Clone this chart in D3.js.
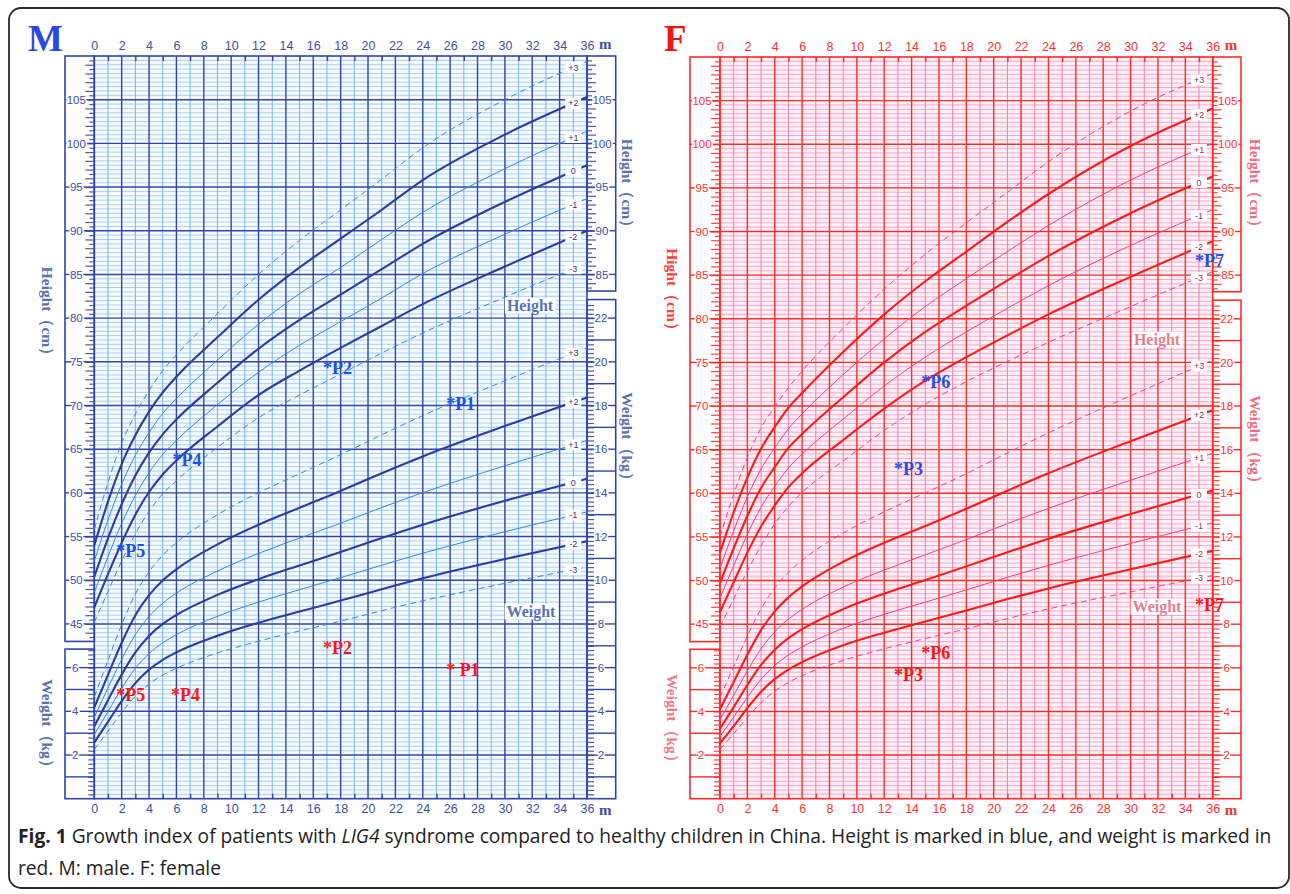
<!DOCTYPE html>
<html>
<head>
<meta charset="utf-8">
<script src="https://cdn.jsdelivr.net/npm/d3@7"></script>
<style>
  body { margin: 0; background: #fff; }
  svg { display: block; }
</style>
</head>
<body>
<svg id="chart" width="1290" height="894"></svg>
<script>
// ages (months) of the reference table rows
const months = [0, 1, 2, 3, 4, 5, 6, 9, 12, 15, 18, 21, 24, 30, 36];
const zLabels = ["-3", "-2", "-1", "0", "+1", "+2", "+3"];
const monthTicks = d3.range(0, 37, 2);

// one row per month, columns z = -3 .. +3
const boyHeight = [
  [45.2, 46.9, 48.6, 50.4, 52.2, 54.0, 55.8],
  [48.7, 50.7, 52.7, 54.8, 56.9, 59.0, 61.2],
  [52.2, 54.3, 56.5, 58.7, 61.0, 63.3, 65.7],
  [55.3, 57.5, 59.7, 62.0, 64.3, 66.6, 69.0],
  [57.9, 60.1, 62.3, 64.6, 66.9, 69.3, 71.7],
  [59.9, 62.1, 64.4, 66.7, 69.1, 71.5, 74.0],
  [61.4, 63.7, 66.0, 68.4, 70.8, 73.3, 75.8],
  [65.2, 67.6, 70.1, 72.6, 75.2, 77.8, 80.5],
  [68.6, 71.2, 73.8, 76.5, 79.3, 82.1, 85.0],
  [71.2, 74.0, 76.9, 79.8, 82.8, 85.8, 88.9],
  [73.6, 76.6, 79.6, 82.7, 85.8, 89.1, 92.4],
  [76.0, 79.1, 82.3, 85.6, 89.0, 92.4, 95.9],
  [78.3, 81.6, 85.1, 88.5, 92.1, 95.8, 99.5],
  [82.4, 85.9, 89.6, 93.3, 97.1, 101.0, 105.0],
  [86.3, 90.0, 93.7, 97.5, 101.4, 105.3, 109.4]
];
const boyWeight = [
  [2.26, 2.58, 2.93, 3.32, 3.73, 4.18, 4.66],
  [3.09, 3.52, 3.99, 4.51, 5.07, 5.67, 6.33],
  [3.94, 4.47, 5.05, 5.68, 6.38, 7.14, 7.97],
  [4.69, 5.29, 5.97, 6.70, 7.51, 8.40, 9.37],
  [5.25, 5.91, 6.64, 7.45, 8.34, 9.32, 10.39],
  [5.66, 6.36, 7.14, 8.00, 8.95, 9.99, 11.15],
  [5.97, 6.70, 7.51, 8.41, 9.41, 10.50, 11.72],
  [6.67, 7.46, 8.35, 9.33, 10.42, 11.64, 13.00],
  [7.21, 8.06, 9.00, 10.05, 11.23, 12.54, 14.00],
  [7.68, 8.57, 9.57, 10.68, 11.93, 13.32, 14.88],
  [8.13, 9.07, 10.12, 11.29, 12.61, 14.09, 15.75],
  [8.61, 9.59, 10.69, 11.93, 13.33, 14.90, 16.66],
  [9.06, 10.09, 11.24, 12.54, 14.01, 15.67, 17.54],
  [9.86, 10.97, 12.22, 13.64, 15.24, 17.06, 19.13],
  [10.61, 11.79, 13.13, 14.65, 16.39, 18.37, 20.64]
];
const girlHeight = [
  [44.7, 46.4, 48.0, 49.7, 51.4, 53.2, 55.0],
  [47.9, 49.8, 51.7, 53.7, 55.7, 57.8, 59.9],
  [51.1, 53.2, 55.3, 57.4, 59.6, 61.8, 64.1],
  [54.0, 56.2, 58.4, 60.6, 62.8, 65.1, 67.5],
  [56.5, 58.6, 60.8, 63.0, 65.2, 67.6, 69.9],
  [58.5, 60.7, 62.9, 65.2, 67.4, 69.8, 72.1],
  [60.1, 62.3, 64.5, 66.8, 69.1, 71.5, 74.0],
  [63.7, 66.1, 68.5, 71.0, 73.6, 76.2, 78.9],
  [67.2, 69.7, 72.3, 75.0, 77.7, 80.5, 83.4],
  [70.2, 72.9, 75.6, 78.5, 81.4, 84.3, 87.4],
  [72.8, 75.6, 78.5, 81.5, 84.6, 87.7, 91.0],
  [75.1, 78.1, 81.2, 84.4, 87.7, 91.1, 94.5],
  [77.3, 80.5, 83.8, 87.2, 90.7, 94.3, 98.0],
  [81.4, 84.8, 88.4, 92.1, 95.9, 99.8, 103.8],
  [85.4, 88.9, 92.5, 96.3, 100.1, 104.1, 108.1]
];
const girlWeight = [
  [2.26, 2.54, 2.85, 3.21, 3.63, 4.10, 4.65],
  [2.98, 3.33, 3.74, 4.20, 4.74, 5.35, 6.05],
  [3.72, 4.15, 4.65, 5.21, 5.86, 6.60, 7.46],
  [4.40, 4.90, 5.47, 6.13, 6.87, 7.73, 8.71],
  [4.93, 5.48, 6.11, 6.83, 7.65, 8.59, 9.66],
  [5.33, 5.92, 6.59, 7.36, 8.23, 9.23, 10.38],
  [5.64, 6.26, 6.96, 7.77, 8.68, 9.73, 10.93],
  [6.34, 7.03, 7.81, 8.69, 9.70, 10.86, 12.18],
  [6.87, 7.61, 8.45, 9.40, 10.48, 11.73, 13.15],
  [7.34, 8.12, 9.01, 10.02, 11.18, 12.50, 14.02],
  [7.79, 8.63, 9.57, 10.65, 11.88, 13.29, 14.90],
  [8.26, 9.15, 10.15, 11.30, 12.61, 14.12, 15.85],
  [8.70, 9.64, 10.70, 11.92, 13.31, 14.92, 16.77],
  [9.48, 10.52, 11.70, 13.05, 14.60, 16.39, 18.47],
  [10.23, 11.36, 12.65, 14.13, 15.83, 17.81, 20.10]
];

// patients: [label, age in months, value]
const boyHeightPts = [["*P1", 26, 70.5], ["*P2", 17, 74.6], ["*P4", 6, 64.0], ["*P5", 1.9, 53.6]];
const boyWeightPts = [["* P1", 26, 6.0], ["*P2", 17, 7.0], ["*P4", 5.9, 4.85], ["*P5", 1.9, 4.85]];
const girlHeightPts = [["*P3", 13, 63.1], ["*P6", 15, 73.0], ["*P7", 35, 86.9]];
const girlWeightPts = [["*P3", 13, 5.8], ["*P6", 15, 6.8], ["*P7", 35, 9.0]];

const heightLabels = d3.range(45, 106, 5);
const heightLabelsRight = [85, 90, 95, 100, 105];
const weightLabelsLeft = [2, 4, 6];
const weightLabelsRight = d3.range(2, 23, 2);

const svg = d3.select("#chart");
const SERIF = "'Liberation Serif', 'DejaVu Serif', serif";
const SANS = "'Liberation Sans', Arial, sans-serif";

svg.append("rect")
  .attr("x", 9).attr("y", 8).attr("width", 1280).attr("height", 880)
  .attr("rx", 12)
  .attr("fill", "#fff").attr("stroke", "#2a2a2a").attr("stroke-width", 1.8);

function drawPanel(p) {
  const x = d3.scaleLinear().domain([0, 36]).range([p.x0, p.x1]);
  const yH = d3.scaleLinear().domain([25, 110]).range([p.bottom, p.top]);
  const yW = d3.scaleLinear().domain([0, 34]).range([p.bottom, p.top]);
  const g = svg.append("g");

  // plot background
  g.append("rect")
    .attr("x", p.x0).attr("y", p.top)
    .attr("width", p.x1 - p.x0).attr("height", p.bottom - p.top)
    .attr("fill", p.bg);

  // fine horizontal rules, every 0.5 cm
  g.append("g").selectAll("line")
    .data(d3.range(25.5, 110, 0.5).filter(v => v % 5 !== 0))
    .join("line")
    .attr("x1", p.x0).attr("x2", p.x1)
    .attr("y1", d => yH(d)).attr("y2", d => yH(d))
    .attr("stroke", p.fine).attr("stroke-width", 0.9);

  // odd month verticals
  g.append("g").selectAll("line")
    .data(d3.range(1, 36, 2))
    .join("line")
    .attr("x1", d => x(d)).attr("x2", d => x(d))
    .attr("y1", p.top).attr("y2", p.bottom)
    .attr("stroke", p.month).attr("stroke-width", 1);

  // major grid
  g.append("g").selectAll("line")
    .data(d3.range(30, 110, 5))
    .join("line")
    .attr("x1", p.x0).attr("x2", p.x1)
    .attr("y1", d => yH(d)).attr("y2", d => yH(d))
    .attr("stroke", p.major).attr("stroke-width", 1.4);
  g.append("g").selectAll("line")
    .data(d3.range(2, 36, 2))
    .join("line")
    .attr("x1", d => x(d)).attr("x2", d => x(d))
    .attr("y1", p.top).attr("y2", p.bottom)
    .attr("stroke", p.major).attr("stroke-width", 1.4);

  // odd month ticks on top and bottom edges
  g.append("g").attr("transform", `translate(0,${p.top})`)
    .call(d3.axisBottom(x).tickValues(d3.range(1, 36, 2)).tickSize(5).tickFormat(""))
    .call(a => a.select(".domain").remove())
    .selectAll("line").attr("stroke", p.major).attr("stroke-width", 1.4);
  g.append("g").attr("transform", `translate(0,${p.bottom})`)
    .call(d3.axisTop(x).tickValues(d3.range(1, 36, 2)).tickSize(5).tickFormat(""))
    .call(a => a.select(".domain").remove())
    .selectAll("line").attr("stroke", p.major).attr("stroke-width", 1.4);

  // side boxes
  const boxes = [
    [p.boxL, yH(110), p.x0, yH(43)],
    [p.boxL, yW(6.85), p.x0, yW(0)],
    [p.x1, yH(110), p.boxR, yH(83.1)],
    [p.x1, yW(22.85), p.boxR, yW(0)]
  ];
  g.append("g").selectAll("rect")
    .data(boxes)
    .join("rect")
    .attr("x", d => d[0]).attr("y", d => d[1])
    .attr("width", d => d[2] - d[0]).attr("height", d => d[3] - d[1])
    .attr("fill", "#fff").attr("stroke", p.major).attr("stroke-width", 1.6);

  // box ticks
  function ticks(axis, scale, vals, size, tx) {
    g.append("g").attr("transform", `translate(${tx},0)`)
      .call(axis(scale).tickValues(vals).tickSize(size).tickFormat(""))
      .call(a => a.select(".domain").remove())
      .selectAll("line").attr("stroke", p.tick).attr("stroke-width", 1.2);
  }
  ticks(d3.axisLeft, yH, d3.range(43.5, 110, 1), 5, p.x0);
  ticks(d3.axisLeft, yH, d3.range(44, 110, 1), 9, p.x0);
  ticks(d3.axisLeft, yW, d3.range(0.2, 6.85, 0.2), 6, p.x0);
  ticks(d3.axisRight, yH, d3.range(83.5, 110, 1), 5, p.x1);
  ticks(d3.axisRight, yH, d3.range(84, 110, 1), 9, p.x1);
  ticks(d3.axisRight, yW, d3.range(0.2, 22.8, 0.2), 7, p.x1);

  // full rules across weight boxes at odd kg
  g.append("g").selectAll("line")
    .data([1, 3, 5])
    .join("line")
    .attr("x1", p.boxL).attr("x2", p.x0)
    .attr("y1", d => yW(d)).attr("y2", d => yW(d))
    .attr("stroke", p.major).attr("stroke-width", 1.4);
  g.append("g").selectAll("line")
    .data(d3.range(1, 22, 2))
    .join("line")
    .attr("x1", p.x1).attr("x2", p.boxR)
    .attr("y1", d => yW(d)).attr("y2", d => yW(d))
    .attr("stroke", p.major).attr("stroke-width", 1.4);

  // labelled rules
  function labelled(vals, scale, xa, xb, cx) {
    const lg = g.append("g");
    lg.selectAll("line").data(vals).join("line")
      .attr("x1", xa).attr("x2", xb)
      .attr("y1", d => scale(d)).attr("y2", d => scale(d))
      .attr("stroke", p.major).attr("stroke-width", 1.4);
    lg.selectAll("text").data(vals).join("text")
      .attr("x", cx).attr("y", d => scale(d)).attr("dy", "0.36em")
      .attr("text-anchor", "middle")
      .attr("font-family", SANS).attr("font-size", 11.5)
      .attr("fill", p.text)
      .attr("stroke", "#fff").attr("stroke-width", 3).attr("paint-order", "stroke")
      .text(d => d);
  }
  labelled(heightLabels, yH, p.boxL, p.x0, p.x0 - 18);
  labelled(weightLabelsLeft, yW, p.boxL, p.x0, p.x0 - 19);
  labelled(heightLabelsRight, yH, p.x1, p.boxR, p.x1 + 15);
  labelled(weightLabelsRight, yW, p.x1, p.boxR, p.x1 + 14);

  // plot border
  g.append("rect")
    .attr("x", p.x0).attr("y", p.top)
    .attr("width", p.x1 - p.x0).attr("height", p.bottom - p.top)
    .attr("fill", "none").attr("stroke", p.major).attr("stroke-width", 1.6);

  // month axes
  [[d3.axisTop, p.top - 6], [d3.axisBottom, p.bottom + 5]].forEach(([axis, ty]) => {
    g.append("g").attr("transform", `translate(0,${ty})`)
      .call(axis(x).tickValues(monthTicks).tickSize(0).tickPadding(0))
      .call(a => a.select(".domain").remove())
      .selectAll("text")
      .attr("font-family", SANS).attr("font-size", 12.5)
      .attr("fill", p.text);
    g.append("text")
      .attr("x", x(36) + 12).attr("y", ty + (axis === d3.axisTop ? -1 : 11))
      .attr("font-family", SERIF).attr("font-weight", "bold").attr("font-size", 15)
      .attr("fill", p.text).text("m");
  });

  // growth curves: -3/+3 dashed, -1/+1 thin, -2/0/+2 heavy
  const lineH = d3.line().x(d => x(d[0])).y(d => yH(d[1])).curve(d3.curveMonotoneX);
  const lineW = d3.line().x(d => x(d[0])).y(d => yW(d[1])).curve(d3.curveMonotoneX);
  const styleOf = z => {
    if (z === 0 || z === 6) return { stroke: p.thin, width: 1, dash: "6,4" };
    if (z === 2 || z === 4) return { stroke: p.thin, width: 1, dash: null };
    return { stroke: p.curve, width: 2.1, dash: null };
  };
  const curveLayer = g.append("g");
  const labelLayer = g.append("g");
  const i30 = months.indexOf(30), i36 = months.indexOf(36);
  [[p.height, lineH, yH], [p.weight, lineW, yW]].forEach(([table, line, scale]) => {
    zLabels.forEach((lab, z) => {
      const pts = months.map((m, i) => [m, table[i][z]]);
      const s = styleOf(z);
      curveLayer.append("path")
        .attr("d", line(pts))
        .attr("fill", "none")
        .attr("stroke", s.stroke).attr("stroke-width", s.width)
        .attr("stroke-dasharray", s.dash);
      const v35 = table[i30][z] + (table[i36][z] - table[i30][z]) * 5 / 6;
      const lx = x(35), ly = scale(v35);
      labelLayer.append("rect")
        .attr("x", lx - 8).attr("y", ly - 5.5).attr("width", 16).attr("height", 11)
        .attr("fill", "#fff");
      labelLayer.append("text")
        .attr("x", lx).attr("y", ly).attr("dy", "0.35em")
        .attr("text-anchor", "middle")
        .attr("font-family", SANS).attr("font-size", 9)
        .attr("fill", p.zText).text(lab);
    });
  });

  // section labels
  [["Height", p.hLabel], ["Weight", p.wLabel]].forEach(([t, pos]) => {
    const tg = g.append("g");
    const txt = tg.append("text")
      .attr("x", pos[0]).attr("y", pos[1]).attr("dy", "0.35em")
      .attr("text-anchor", "middle")
      .attr("font-family", SERIF).attr("font-weight", "bold").attr("font-size", 16)
      .attr("fill", p.title).text(t);
    const b = txt.node().getBBox();
    tg.insert("rect", "text")
      .attr("x", b.x - 2).attr("y", b.y + 1).attr("width", b.width + 4).attr("height", b.height - 2)
      .attr("fill", "#fff");
  });

  // axis titles (vertical)
  p.titles.forEach(([t, cx, cy, col]) => {
    g.append("text")
      .attr("transform", `translate(${cx},${cy}) rotate(90)`)
      .attr("text-anchor", "middle").attr("dy", "0.35em")
      .attr("font-family", SERIF).attr("font-weight", "bold").attr("font-size", 15.5)
      .attr("fill", col).text(t);
  });

  // patients
  [[p.hPts, yH, p.hPtColor], [p.wPts, yW, p.wPtColor]].forEach(([pts, scale, col]) => {
    g.append("g").selectAll("text").data(pts).join("text")
      .attr("x", d => x(d[1]) - 4).attr("y", d => scale(d[2]) + 8.5)
      .attr("font-family", SERIF).attr("font-weight", "bold").attr("font-size", 18)
      .attr("fill", col).text(d => d[0]);
  });

  // panel letter
  svg.append("text")
    .attr("x", p.letterX).attr("y", 51)
    .attr("font-family", SERIF).attr("font-weight", "bold").attr("font-size", 37)
    .attr("fill", p.letterColor).text(p.letter);
}

drawPanel({
  x0: 94.3, x1: 587, top: 56, bottom: 798.7, boxL: 65, boxR: 615.7,
  bg: "#f5faff", fine: "#a2cdf2", month: "#78b0ec", major: "#3343a8", tick: "#4a58ae",
  text: "#3d4ea8", zText: "#333a66", curve: "#2c3c9e", thin: "#3286ea", title: "#5d6fb4",
  height: boyHeight, weight: boyWeight,
  hLabel: [530, 305], wLabel: [531, 611],
  titles: [["Height（cm）", 627, 187, "#5d6fb4"], ["Weight（kg）", 627, 440, "#5d6fb4"],
           ["Height（cm）", 47, 315, "#5d6fb4"], ["Weight（kg）", 47, 727, "#5d6fb4"]],
  hPts: boyHeightPts, wPts: boyWeightPts, hPtColor: "#2050e6", wPtColor: "#ff1414",
  letter: "M", letterX: 28, letterColor: "#2a48e0"
});

drawPanel({
  x0: 720, x1: 1212.7, top: 57, bottom: 798.7, boxL: 690, boxR: 1241,
  bg: "#fff0f6", fine: "#f7a2c6", month: "#f27fb0", major: "#ff2a2a", tick: "#ff4040",
  text: "#ff3030", zText: "#a0304a", curve: "#ff1a1a", thin: "#ff3a86", title: "#e87d8c",
  height: girlHeight, weight: girlWeight,
  hLabel: [1157, 339], wLabel: [1157, 606],
  titles: [["Height（cm）", 1255, 187, "#ee7080"], ["Weight（kg）", 1255, 443, "#ee7080"],
           ["Hight（cm）", 672, 293, "#ff4040"], ["Weight（kg）", 672, 722, "#f27a8a"]],
  hPts: girlHeightPts, wPts: girlWeightPts, hPtColor: "#2050e6", wPtColor: "#ff1414",
  letter: "F", letterX: 664, letterColor: "#f01414"
});

// caption
const cap = svg.append("g").attr("font-family", "'Open Sans', 'Liberation Sans', sans-serif").attr("fill", "#222");
const line1 = cap.append("text").attr("x", 18).attr("y", 843).attr("font-size", 16);
line1.append("tspan").attr("font-weight", "bold").text("Fig. 1");
line1.append("tspan").text(" Growth index of patients with ");
line1.append("tspan").attr("font-style", "italic").text("LIG4");
line1.append("tspan").text(" syndrome compared to healthy children in China. Height is marked in blue, and weight is marked in");
const line2 = cap.append("text").attr("x", 18).attr("y", 875).attr("font-size", 16)
  .text("red. M: male. F: female");
const w1 = line1.node().getComputedTextLength();
const fs = 16 * 1254 / w1;
line1.attr("font-size", fs);
line2.attr("font-size", fs);
</script>
</body>
</html>
